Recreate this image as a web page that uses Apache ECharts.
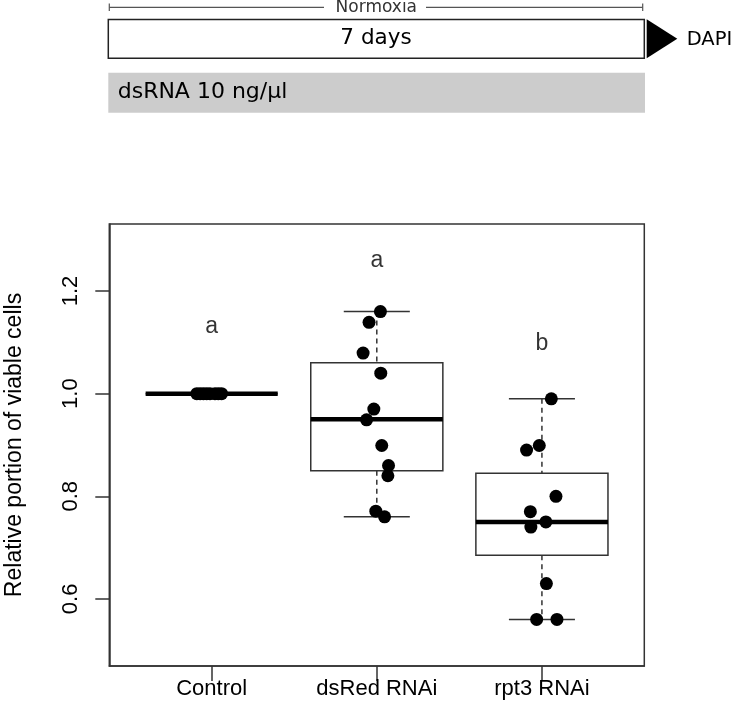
<!DOCTYPE html>
<html>
<head>
<meta charset="utf-8">
<script src="https://cdn.jsdelivr.net/npm/echarts@6/dist/echarts.min.js"></script>
<style>html,body{margin:0;padding:0;background:#fff}#c{width:739px;height:724px}</style>
</head>
<body>
<div id="c"></div>
<script>
// ---- data ----
var categories = ['Control', 'dsRed RNAi', 'rpt3 RNAi'];
var categoryPos = [1, 2, 3];
// [lower whisker, Q1, median, Q3, upper whisker]
var controlBox = [1.0, 1.0, 1.0, 1.0, 1.0];
var dsRedBox = [0.76, 0.85, 0.95, 1.06, 1.16];
var rpt3Box = [0.56, 0.685, 0.75, 0.845, 0.99];
var controlValues = [1.0, 1.0, 1.0, 1.0, 1.0, 1.0, 1.0, 1.0];
var controlJitter = [0.91, 0.93, 0.95, 0.97, 0.99, 1.02, 1.04, 1.06];
var dsRedValues = [1.16, 1.139, 1.079, 1.040, 0.970, 0.949, 0.899, 0.860, 0.840, 0.771, 0.760];
var dsRedJitter = [2.022, 1.953, 1.917, 2.024, 1.982, 1.938, 2.030, 2.071, 2.067, 1.994, 2.047];
var rpt3Values = [0.99, 0.899, 0.890, 0.800, 0.770, 0.750, 0.740, 0.630, 0.560, 0.560];
var rpt3Jitter = [3.057, 2.984, 2.907, 3.085, 2.930, 3.024, 2.933, 3.027, 2.968, 3.091];
var sigLetters = ['a', 'a', 'b'];
var sigLetterY = [1.13, 1.26, 1.098];
var yTicks = [0.6, 0.8, 1.0, 1.2];
var yTitle = 'Relative portion of viable cells';
var timelineLabel = 'Normoxia';
var durationLabel = '7 days';
var treatmentLabel = 'dsRNA 10 ng/µl';
var endpointLabel = 'DAPI';

// ---- build ----
var boxes = [controlBox, dsRedBox, rpt3Box];
var boxData = boxes.map(function (b, i) { return [categoryPos[i]].concat(b); });
var points = [];
[[controlJitter, controlValues], [dsRedJitter, dsRedValues], [rpt3Jitter, rpt3Values]].forEach(function (g) {
  g[0].forEach(function (x, j) { points.push([x, g[1][j]]); });
});
var letterData = sigLetters.map(function (l, i) { return [categoryPos[i], sigLetterY[i], l]; });

var axisColor = '#333';
var chart = echarts.init(document.getElementById('c'), null, {renderer: 'canvas'});
var TOPFONT = '"DejaVu Sans", Verdana, sans-serif';
var PLOTFONT = '"Liberation Sans", Arial, sans-serif';

chart.setOption({
  animation: false,
  backgroundColor: '#ffffff',
  grid: {left: 109.3, top: 224, right: 94.7, bottom: 58, show: true, borderColor: axisColor, borderWidth: 1.5,
    backgroundColor: 'transparent', containLabel: false, outerBoundsMode: 'none'},
  xAxis: {
    type: 'value', min: 0.38, max: 3.62,
    splitLine: {show: false},
    axisLine: {show: true, lineStyle: {color: axisColor, width: 1.5}},
    axisTick: {show: true, customValues: categoryPos, length: 15, lineStyle: {color: axisColor, width: 1.5}},
    axisLabel: {customValues: categoryPos, margin: 12, color: '#000', fontSize: 22, fontFamily: PLOTFONT,
      formatter: function (v) { var i = categoryPos.indexOf(Math.round(v)); return i >= 0 ? categories[i] : ''; }}
  },
  yAxis: {
    type: 'value', min: 0.4693, max: 1.3306,
    name: yTitle, nameLocation: 'middle', nameGap: 83, nameRotate: 90,
    nameTextStyle: {fontSize: 23, fontFamily: PLOTFONT, color: '#000'},
    splitLine: {show: false},
    axisLine: {show: true, lineStyle: {color: axisColor, width: 1.5}},
    axisTick: {show: true, customValues: yTicks, length: 14, lineStyle: {color: axisColor, width: 1.5}},
    axisLabel: {customValues: yTicks, rotate: 90, margin: 27, color: '#000', fontSize: 22, fontFamily: PLOTFONT,
      formatter: function (v) { return v.toFixed(1); }}
  },
  series: [
    {
      type: 'custom',
      data: boxData,
      z: 2,
      renderItem: function (params, api) {
        var x = api.value(0), lo = api.value(1), q1 = api.value(2), md = api.value(3), q3 = api.value(4), hi = api.value(5);
        var pL = api.coord([x - 0.4, md]), pR = api.coord([x + 0.4, md]);
        var cL = api.coord([x - 0.2, lo])[0], cR = api.coord([x + 0.2, lo])[0];
        var cx = api.coord([x, md])[0];
        var yLo = api.coord([x, lo])[1], yQ1 = api.coord([x, q1])[1], yMd = pL[1], yQ3 = api.coord([x, q3])[1], yHi = api.coord([x, hi])[1];
        var ls = {stroke: axisColor, lineWidth: 1.5, fill: null};
        var dash = {stroke: axisColor, lineWidth: 1.5, lineDash: [5, 4], fill: null};
        return {
          type: 'group',
          children: [
            {type: 'line', shape: {x1: cx, y1: yHi, x2: cx, y2: yQ3}, style: dash},
            {type: 'line', shape: {x1: cx, y1: yQ1, x2: cx, y2: yLo}, style: dash},
            {type: 'line', shape: {x1: cL, y1: yHi, x2: cR, y2: yHi}, style: ls},
            {type: 'line', shape: {x1: cL, y1: yLo, x2: cR, y2: yLo}, style: ls},
            {type: 'rect', shape: {x: pL[0], y: yQ3, width: pR[0] - pL[0], height: yQ1 - yQ3}, style: {stroke: axisColor, lineWidth: 1.5, fill: 'rgba(0,0,0,0)'}},
            {type: 'line', shape: {x1: pL[0], y1: yMd, x2: pR[0], y2: yMd}, style: {stroke: '#000', lineWidth: 4.5}}
          ]
        };
      }
    },
    {
      type: 'scatter', data: points, symbol: 'circle', symbolSize: 13, z: 5,
      itemStyle: {color: '#000', opacity: 1}
    },
    {
      type: 'scatter', data: letterData, symbolSize: 0, z: 6,
      label: {show: true, position: 'inside', formatter: function (p) { return p.value[2]; }, color: '#000', fontSize: 23, fontFamily: PLOTFONT}
    }
  ],
  graphic: [
    // Normoxia timeline
    {type: 'line', shape: {x1: 109.3, y1: 7.3, x2: 324, y2: 7.3}, style: {stroke: '#555', lineWidth: 1.2}},
    {type: 'line', shape: {x1: 426, y1: 7.3, x2: 642.7, y2: 7.3}, style: {stroke: '#555', lineWidth: 1.2}},
    {type: 'line', shape: {x1: 109.3, y1: 3.5, x2: 109.3, y2: 11}, style: {stroke: '#555', lineWidth: 1.2}},
    {type: 'line', shape: {x1: 642.7, y1: 3.5, x2: 642.7, y2: 11}, style: {stroke: '#555', lineWidth: 1.2}},
    {type: 'text', x: 376.3, y: 8, style: {text: timelineLabel, font: '17px ' + TOPFONT, fill: '#333', textAlign: 'center', textVerticalAlign: 'middle'}},
    // 7 days box
    {type: 'rect', shape: {x: 108.3, y: 19.5, width: 536, height: 38.8}, style: {fill: '#fff', stroke: '#222', lineWidth: 1.5}},
    {type: 'text', x: 376, y: 38.5, style: {text: durationLabel, font: '21.5px ' + TOPFONT, fill: '#000', textAlign: 'center', textVerticalAlign: 'middle'}},
    // DAPI arrow
    {type: 'polygon', shape: {points: [[646.7, 19.3], [677.3, 38.8], [646.7, 58.3]]}, style: {fill: '#000'}},
    {type: 'text', x: 686.7, y: 39.5, style: {text: endpointLabel, font: '19.5px ' + TOPFONT, fill: '#000', textAlign: 'left', textVerticalAlign: 'middle'}},
    // dsRNA bar
    {type: 'rect', shape: {x: 108.3, y: 72.7, width: 536.7, height: 40}, style: {fill: '#cccccc'}},
    {type: 'text', x: 117.7, y: 92, style: {text: treatmentLabel, font: '22px ' + TOPFONT, fill: '#000', textAlign: 'left', textVerticalAlign: 'middle'}}
  ]
});
</script>
</body>
</html>
